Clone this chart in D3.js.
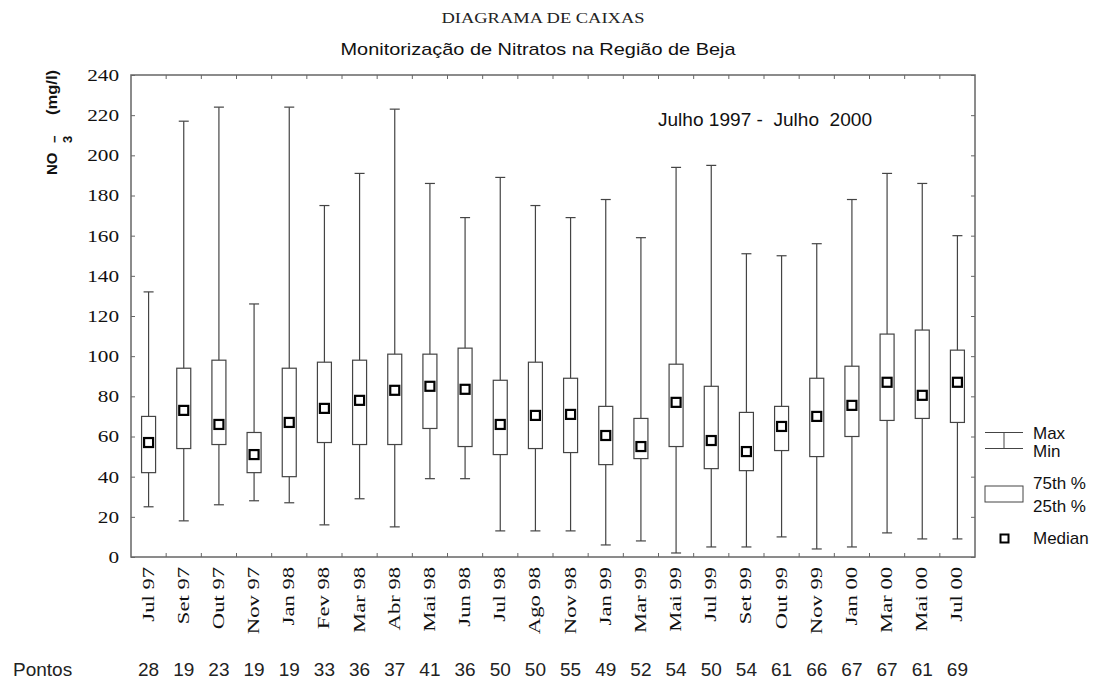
<!DOCTYPE html>
<html>
<head>
<meta charset="utf-8">
<script src="https://cdn.jsdelivr.net/npm/d3@7"></script>
<style>
  html, body { margin: 0; padding: 0; background: #fff; }
  svg { display: block; }
</style>
</head>
<body>
<svg id="chart" width="1101" height="683"></svg>
<script>
// Sampling campaigns (month/year) and their nitrate statistics, mg/l
const months  = ["Jul 97","Set 97","Out 97","Nov 97","Jan 98","Fev 98","Mar 98","Abr 98","Mai 98","Jun 98","Jul 98","Ago 98",
                 "Nov 98","Jan 99","Mar 99","Mai 99","Jul 99","Set 99","Out 99","Nov 99","Jan 00","Mar 00","Mai 00","Jul 00"];
const minVals = [25, 18, 26, 28, 27, 16, 29, 15, 39, 39, 13, 13, 13, 6, 8, 2, 5, 5, 10, 4, 5, 12, 9, 9];
const q1Vals  = [42, 54, 56, 42, 40, 57, 56, 56, 64, 55, 51, 54, 52, 46, 49, 55, 44, 43, 53, 50, 60, 68, 69, 67];
const medVals = [57, 73, 66, 51, 67, 74, 78, 83, 85, 83.5, 66, 70.5, 71, 60.5, 55, 77, 58, 52.5, 65, 70, 75.5, 87, 80.5, 87];
const q3Vals  = [70, 94, 98, 62, 94, 97, 98, 101, 101, 104, 88, 97, 89, 75, 69, 96, 85, 72, 75, 89, 95, 111, 113, 103];
const maxVals = [132, 217, 224, 126, 224, 175, 191, 223, 186, 169, 189, 175, 169, 178, 159, 194, 195, 151, 150, 156, 178, 191, 186, 160];
const pointCounts = [28, 19, 23, 19, 19, 33, 36, 37, 41, 36, 50, 50, 55, 49, 52, 54, 50, 54, 61, 66, 67, 67, 61, 69];
const yTicks = [0, 20, 40, 60, 80, 100, 120, 140, 160, 180, 200, 220, 240];

const rows = months.map((m, i) => ({
  month: m, min: minVals[i], q1: q1Vals[i], med: medVals[i], q3: q3Vals[i], max: maxVals[i], n: pointCounts[i]
}));

const svg = d3.select("#chart");
const frame = { left: 131, right: 975, top: 75, bottom: 557 };

const x = d3.scaleBand().domain(months).range([frame.left, frame.right]).padding(0);
const y = d3.scaleLinear().domain([0, 240]).range([frame.bottom, frame.top]);

const serif = "'Liberation Serif', 'Times New Roman', serif";
const sans  = "'Liberation Sans', Arial, sans-serif";

// widen a text element to a given multiple of its natural width
function stretch(sel, factor) {
  sel.each(function () {
    const w = this.getComputedTextLength();
    d3.select(this).attr("textLength", w * factor).attr("lengthAdjust", "spacingAndGlyphs");
  });
}

// Titles
svg.append("text")
  .attr("x", 543).attr("y", 23).attr("text-anchor", "middle")
  .style("font-family", serif).style("font-size", "15px").attr("fill", "#222")
  .text("DIAGRAMA DE CAIXAS")
  .attr("textLength", 203).attr("lengthAdjust", "spacingAndGlyphs");

svg.append("text")
  .attr("x", 538).attr("y", 55).attr("text-anchor", "middle")
  .style("font-family", sans).style("font-size", "17px").attr("fill", "#111")
  .text("Monitorização de Nitratos na Região de Beja")
  .attr("textLength", 395).attr("lengthAdjust", "spacingAndGlyphs");

// Axis frame
const axisCol = "#666";
svg.append("rect")
  .attr("x", frame.left).attr("y", frame.top)
  .attr("width", frame.right - frame.left).attr("height", frame.bottom - frame.top)
  .attr("fill", "none").attr("stroke", axisCol).attr("stroke-width", 1.5);

// Left axis with inward ticks, plus mirrored ticks on the right edge
const leftAxis = d3.axisLeft(y).tickValues(yTicks).tickSizeInner(-4).tickSizeOuter(0).tickPadding(12);
const gLeft = svg.append("g").attr("transform", `translate(${frame.left},0)`).call(leftAxis);
gLeft.select(".domain").remove();
gLeft.selectAll(".tick line").attr("stroke", axisCol);
gLeft.selectAll(".tick text")
  .style("font-family", serif).style("font-size", "17px").attr("fill", "#111");
stretch(gLeft.selectAll(".tick text"), 1.25);

const rightAxis = d3.axisRight(y).tickValues(yTicks).tickSizeInner(-4).tickSizeOuter(0).tickFormat("");
const gRight = svg.append("g").attr("transform", `translate(${frame.right},0)`).call(rightAxis);
gRight.select(".domain").remove();
gRight.selectAll(".tick line").attr("stroke", axisCol);

// Category separators as inward ticks on top and bottom edges
const bounds = months.slice(1).map(m => x(m));
svg.append("g").selectAll("line").data(bounds).join("line")
  .attr("x1", d => d).attr("x2", d => d)
  .attr("y1", frame.bottom).attr("y2", frame.bottom - 4)
  .attr("stroke", axisCol);
svg.append("g").selectAll("line").data(bounds).join("line")
  .attr("x1", d => d).attr("x2", d => d)
  .attr("y1", frame.top).attr("y2", frame.top + 4)
  .attr("stroke", axisCol);

// Box plots
const boxW = 14, capW = 10, medS = 9;
const cx = d => x(d.month) + x.bandwidth() / 2;
const boxCol = "#444";
const boxes = svg.append("g").selectAll("g").data(rows).join("g");

boxes.append("line")
  .attr("x1", cx).attr("x2", cx)
  .attr("y1", d => y(d.max)).attr("y2", d => y(d.min))
  .attr("stroke", boxCol).attr("stroke-width", 1.2);
boxes.append("line")
  .attr("x1", d => cx(d) - capW / 2).attr("x2", d => cx(d) + capW / 2)
  .attr("y1", d => y(d.max)).attr("y2", d => y(d.max))
  .attr("stroke", boxCol).attr("stroke-width", 1.2);
boxes.append("line")
  .attr("x1", d => cx(d) - capW / 2).attr("x2", d => cx(d) + capW / 2)
  .attr("y1", d => y(d.min)).attr("y2", d => y(d.min))
  .attr("stroke", boxCol).attr("stroke-width", 1.2);
boxes.append("rect")
  .attr("x", d => cx(d) - boxW / 2).attr("width", boxW)
  .attr("y", d => y(d.q3)).attr("height", d => y(d.q1) - y(d.q3))
  .attr("fill", "#fff").attr("stroke", boxCol).attr("stroke-width", 1.2);
boxes.append("rect")
  .attr("x", d => cx(d) - medS / 2).attr("width", medS)
  .attr("y", d => y(d.med) - medS / 2).attr("height", medS)
  .attr("fill", "#fff").attr("stroke", "#000").attr("stroke-width", 2.2);

// Rotated month labels
const xLab = svg.append("g").selectAll("text").data(rows).join("text")
  .attr("transform", d => `translate(${cx(d) + 5},567) rotate(-90)`)
  .attr("text-anchor", "end")
  .style("font-family", serif).style("font-size", "17px").attr("fill", "#111")
  .text(d => d.month);
stretch(xLab, 1.33);

// Number of sampling points per campaign
svg.append("text")
  .attr("x", 13).attr("y", 676)
  .style("font-family", sans).style("font-size", "19px").attr("fill", "#222")
  .text("Pontos");
svg.append("g").selectAll("text").data(rows).join("text")
  .attr("x", cx).attr("y", 676).attr("text-anchor", "middle")
  .style("font-family", sans).style("font-size", "19px").attr("fill", "#222")
  .text(d => d.n);

// Period annotation
svg.append("text")
  .attr("x", 658).attr("y", 126)
  .style("font-family", sans).style("font-size", "19px").attr("fill", "#111")
  .attr("xml:space", "preserve")
  .text("Julho 1997 -  Julho  2000")
  .attr("textLength", 214).attr("lengthAdjust", "spacingAndGlyphs");

// Y-axis title: NO3- (mg/l)
const yTitle = svg.append("g").style("font-family", sans).style("font-weight", "bold").attr("fill", "#111");
yTitle.append("text").attr("transform", "translate(57,175) rotate(-90)")
  .style("font-size", "15px").text("NO");
yTitle.append("text").attr("transform", "translate(72,143) rotate(-90)")
  .style("font-size", "13px").text("3");
yTitle.append("text").attr("transform", "translate(59,143) rotate(-90)")
  .style("font-size", "13px").text("\u2212");
yTitle.append("text").attr("transform", "translate(57,115) rotate(-90)")
  .style("font-size", "14px").text("(mg/l)")
  .attr("textLength", 45).attr("lengthAdjust", "spacingAndGlyphs");

// Legend
const lg = svg.append("g");
lg.append("line").attr("x1", 985).attr("x2", 1023).attr("y1", 432.5).attr("y2", 432.5).attr("stroke", boxCol);
lg.append("line").attr("x1", 985).attr("x2", 1023).attr("y1", 448.5).attr("y2", 448.5).attr("stroke", boxCol);
lg.append("line").attr("x1", 1004).attr("x2", 1004).attr("y1", 432.5).attr("y2", 448.5).attr("stroke", boxCol);
lg.append("rect").attr("x", 985).attr("y", 486).attr("width", 38).attr("height", 16)
  .attr("fill", "#fff").attr("stroke", boxCol);
lg.append("rect").attr("x", 1000.5).attr("y", 534.5).attr("width", 8).attr("height", 8)
  .attr("fill", "#fff").attr("stroke", "#000").attr("stroke-width", 2);
const legendText = [["Max", 438.5], ["Min", 456.5], ["75th %", 488.5], ["25th %", 511.5], ["Median", 543.5]];
lg.selectAll("text.lt").data(legendText).join("text")
  .attr("class", "lt")
  .attr("x", 1033).attr("y", d => d[1])
  .style("font-family", sans).style("font-size", "17px").attr("fill", "#111")
  .text(d => d[0]);
</script>
</body>
</html>
